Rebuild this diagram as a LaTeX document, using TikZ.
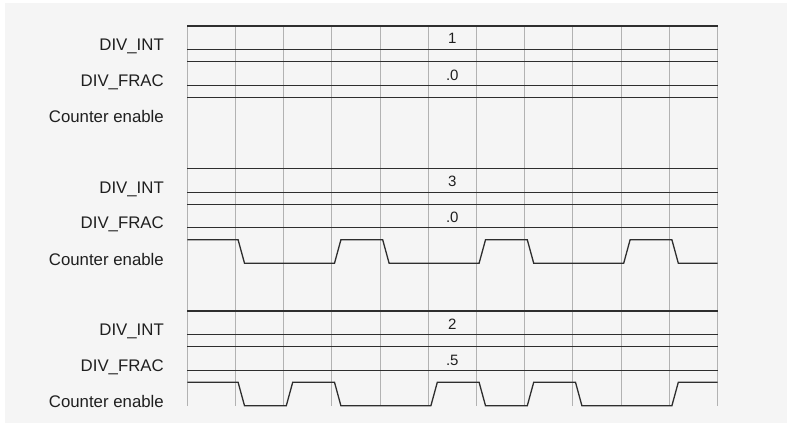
\documentclass[tikz,border=0pt]{standalone}
\usepackage{fontspec}
\setmainfont{Liberation Sans}
\tikzset{
    tim_bg/.style={
        fill=black!4,
        draw=none
    },
    tim_grid/.style={
        draw=black!30,
        line width=1.1pt
    },
    tim_bus/.style={
        draw=black!82,
        line width=1.3pt
    },
    tim_wave/.style={
        draw=black!82,
        line width=1.3pt,
        line join=miter
    },
    tim_label/.style={
        anchor=base east,
        inner sep=0pt,
        text=black!88,
        font=\fontsize{16.8}{20}\selectfont
    },
    tim_value/.style={
        anchor=base,
        inner sep=0pt,
        text=black!88,
        font=\fontsize{15}{18}\selectfont
    }
}
% buses and labels of one block: #1 name, #2 integer part, #3 fraction
\newcommand{\timblock}[3]{
    \draw[tim_bus] (187.3,0) -- (717.5,0);
    \draw[tim_bus] (187.3,23.7) -- (717.5,23.7);
    \draw[tim_bus] (187.3,35.7) -- (717.5,35.7);
    \draw[tim_bus] (187.3,59.3) -- (717.5,59.3);
    \node[tim_label] (#1Int) at (164,24.6) {DIV\_INT};
    \node[tim_label] (#1Frac) at (164,60.4) {DIV\_FRAC};
    \node[tim_label] (#1En) at (164,96.6) {Counter enable};
    \node[tim_value] (#1IntVal) at (452.3,18) {#2};
    \node[tim_value] (#1FracVal) at (452.3,54.3) {#3};
}

\begin{document}
\begin{tikzpicture}[x=1pt, y=-1pt]

\useasboundingbox (0,0) rectangle (787,425);
\fill[tim_bg] (5,3) rectangle (787,423);

\foreach \k in {0,...,11}
  \draw[tim_grid] ({187.3+48.2*\k},26) -- ({187.3+48.2*\k},405.7);

% divide by 1
\begin{scope}[shift={(0,26)}]
  \timblock{one}{1}{.0}
  \draw[tim_wave] (187.3,71.3) -- (717.5,71.3);
\end{scope}

% divide by 3
\begin{scope}[shift={(0,168.5)}]
  \timblock{three}{3}{.0}
  \draw[tim_wave] (187.3,71.3)
    \foreach \k/\ya/\yb in {1/71.3/94.7, 3/94.7/71.3, 4/71.3/94.7, 6/94.7/71.3,
                           7/71.3/94.7, 9/94.7/71.3, 10/71.3/94.7}
      { -- ({187.3+48.2*\k+2.6},\ya) -- ({187.3+48.2*\k+9},\yb) }
    -- (717.5,94.7);
\end{scope}

% divide by 2.5
\begin{scope}[shift={(0,311)}]
  \timblock{twohalf}{2}{.5}
  \draw[tim_wave] (187.3,71.3)
    \foreach \k/\ya/\yb in {1/71.3/94.7, 2/94.7/71.3, 3/71.3/94.7, 5/94.7/71.3,
                           6/71.3/94.7, 7/94.7/71.3, 8/71.3/94.7, 10/94.7/71.3}
      { -- ({187.3+48.2*\k+2.6},\ya) -- ({187.3+48.2*\k+9},\yb) }
    -- (717.5,71.3);
\end{scope}

\end{tikzpicture}
\end{document}
